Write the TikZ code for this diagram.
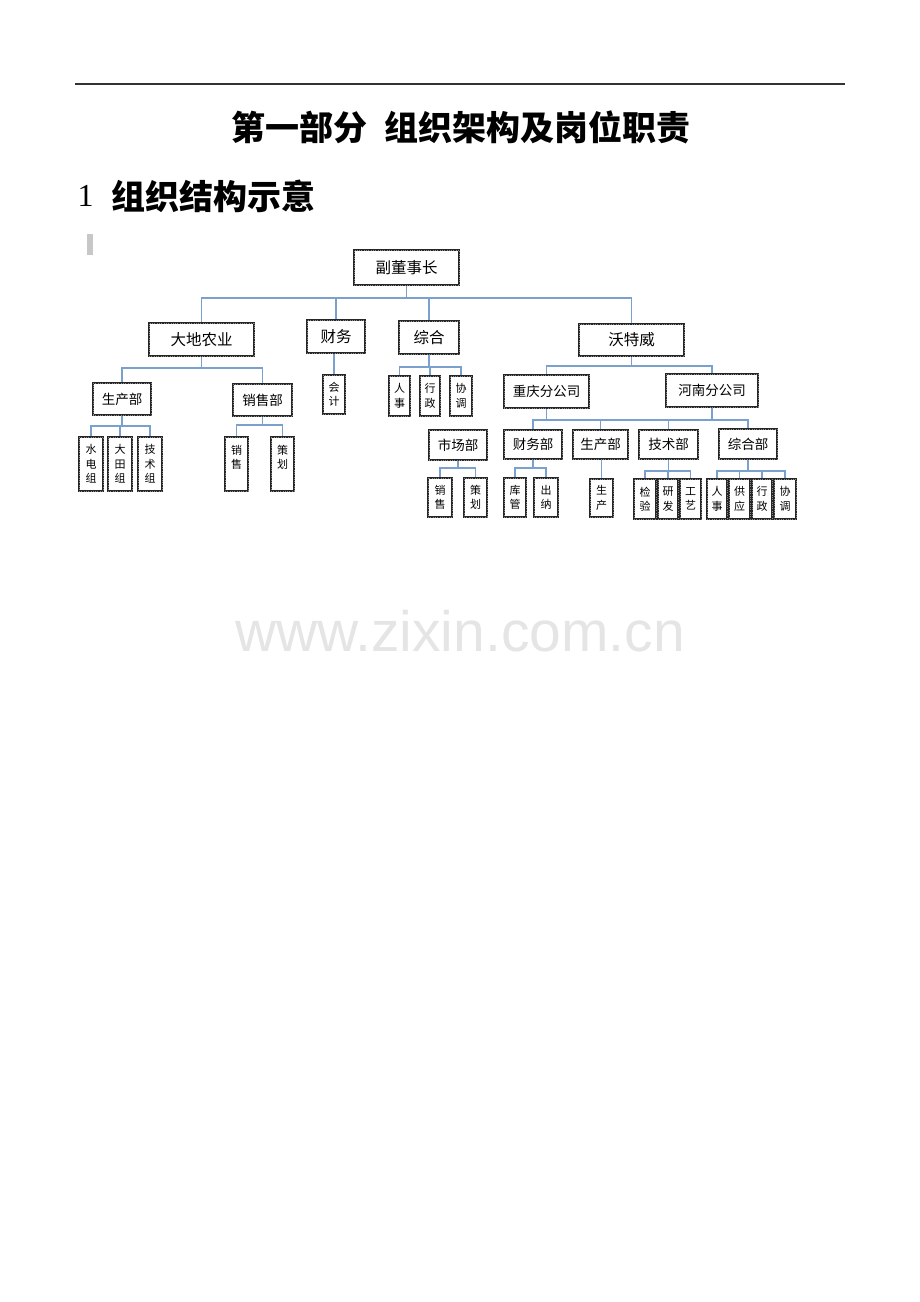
\documentclass[tikz,border=0pt]{standalone}
\usepackage{fontspec}
\setmainfont{Liberation Serif}
\newfontfamily\cjk{Noto Sans CJK SC}
\newfontfamily\wmark{Liberation Sans}
\definecolor{linkblue}{RGB}{122,160,206}

\begin{document}
\begin{tikzpicture}[x=1pt,y=-1pt,
  unit/.style={draw=black!85, line width=2.1pt, fill=white, inner sep=0pt, align=center,
    postaction={draw=black!45, line width=0.35pt, dash pattern=on 0.7pt off 1.6pt}},
  wh/.style 2 args={minimum width=#1, minimum height=#2},
  big/.style={unit, font=\cjk\fontsize{15.5}{18}\selectfont},
  mid/.style={unit, font=\cjk\fontsize{13.5}{16}\selectfont},
  post/.style={unit, font=\cjk\fontsize{11}{14.5}\selectfont},
  link/.style={draw=linkblue, line width=1.2pt}]
\useasboundingbox (0,0) rectangle (920,1302);

% page header
\draw[black!80, line width=1.2pt] (75,84) -- (845,84);
\node[font=\cjk\bfseries\fontsize{34}{40}\selectfont] (title) at (460.5,127.5) {第一部分\hspace{0.5em}组织架构及岗位职责};
\node[anchor=west, font=\fontsize{32}{36}\selectfont] (num) at (74,196) {1};
\node[anchor=west, font=\cjk\bfseries\fontsize{34}{40}\selectfont] (head) at (108,196) {组织结构示意};
\fill[black!22] (87,234) rectangle (93,255);
\node[anchor=base, font=\wmark\fontsize{57}{60}\selectfont, text=black!10] (wm) at (460,651) {www.zixin.com.cn};

% top levels
\node[big, wh={105}{35}] (chair) at (406.5,267.5) {副董事长};
\node[big, wh={105}{33}] (ddny) at (201.5,339.5) {大地农业};
\node[big, wh={58}{33}] (cw) at (336,336.5) {财务};
\node[big, wh={60}{33}] (zh) at (429,337.5) {综合};
\node[big, wh={105}{32}] (wtw) at (631.5,340) {沃特威};

% 大地农业
\node[mid, wh={58}{32}] (scb) at (122,399) {生产部};
\node[mid, wh={59}{32}] (xsb) at (262.5,400) {销售部};
\node[post, wh={24}{54}] (sdz) at (91,464) {水\\电\\组};
\node[post, wh={24}{54}] (dtz) at (120,464) {大\\田\\组};
\node[post, wh={24}{54}] (jsz) at (150,464) {技\\术\\组};
\node[post, wh={23}{54}] (xs1) at (236.5,464) {销\\售\\~};
\node[post, wh={23}{54}] (ch1) at (282.5,464) {策\\划\\~};

% 财务 / 综合
\node[post, wh={22}{39}] (kj) at (334,394.5) {会\\计};
\node[post, wh={21}{40}] (rs1) at (399.5,396) {人\\事};
\node[post, wh={20}{40}] (xz1) at (430,396) {行\\政};
\node[post, wh={22}{40}] (xt1) at (461,396) {协\\调};

% 沃特威
\node[mid, wh={85}{33}] (cq) at (546.5,391.5) {重庆分公司};
\node[mid, wh={92}{33}] (hn) at (712,390.5) {河南分公司};
\node[mid, wh={58}{30}] (scbm) at (458,445) {市场部};
\node[mid, wh={58}{29}] (cwb) at (533,444.5) {财务部};
\node[mid, wh={55}{29}] (scb2) at (600.5,444.5) {生产部};
\node[mid, wh={59}{29}] (jsb) at (668.5,444.5) {技术部};
\node[mid, wh={58}{30}] (zhb) at (748,444) {综合部};
\node[post, wh={24}{39}] (xs2) at (440,497.5) {销\\售};
\node[post, wh={23}{39}] (ch2) at (475.5,497.5) {策\\划};
\node[post, wh={22}{39}] (kg) at (515,497.5) {库\\管};
\node[post, wh={24}{39}] (cn) at (546,497.5) {出\\纳};
\node[post, wh={23}{38}] (sc) at (601.5,498) {生\\产};
\node[post, wh={22}{40}] (jy) at (645,499) {检\\验};
\node[post, wh={20}{40}] (yf) at (668,499) {研\\发};
\node[post, wh={21}{40}] (gy) at (690.5,499) {工\\艺};
\node[post, wh={20}{40}] (rs2) at (717,499) {人\\事};
\node[post, wh={21}{40}] (gyi) at (739.5,499) {供\\应};
\node[post, wh={20}{40}] (xz2) at (762,499) {行\\政};
\node[post, wh={22}{40}] (xt2) at (785,499) {协\\调};

% connectors
\foreach \c in {ddny,cw,zh,wtw}
  \draw[link] (chair.south) |- (\c.north |- 0,298) -- (\c.north);
\foreach \c in {scb,xsb}
  \draw[link] (ddny.south) |- (\c.north |- 0,368) -- (\c.north);
\draw[link] (kj.north |- cw.south) -- (kj.north);
\foreach \c in {rs1,xz1,xt1}
  \draw[link] (zh.south) |- (\c.north |- 0,367) -- (\c.north);
\foreach \c in {cq,hn}
  \draw[link] (wtw.south) |- (\c.north |- 0,366) -- (\c.north);
\foreach \c in {sdz,dtz,jsz}
  \draw[link] (scb.south) |- (\c.north |- 0,426) -- (\c.north);
\foreach \c in {xs1,ch1}
  \draw[link] (xsb.south) |- (\c.north |- 0,425) -- (\c.north);
\foreach \c in {cwb,scb2,jsb}
  \draw[link] (cq.south) |- (\c.north |- 0,420) -- (\c.north);
\foreach \c in {jsb,zhb}
  \draw[link] (hn.south) |- (\c.north |- 0,420) -- (\c.north);
\foreach \c in {xs2,ch2}
  \draw[link] (scbm.south) |- (\c.north |- 0,468) -- (\c.north);
\foreach \c in {kg,cn}
  \draw[link] (cwb.south) |- (\c.north |- 0,468) -- (\c.north);
\draw[link] (sc.north |- scb2.south) -- (sc.north);
\foreach \c in {jy,yf,gy}
  \draw[link] (jsb.south) |- (\c.north |- 0,471) -- (\c.north);
\foreach \c in {rs2,gyi,xz2,xt2}
  \draw[link] (zhb.south) |- (\c.north |- 0,471) -- (\c.north);
\end{tikzpicture}
\end{document}
